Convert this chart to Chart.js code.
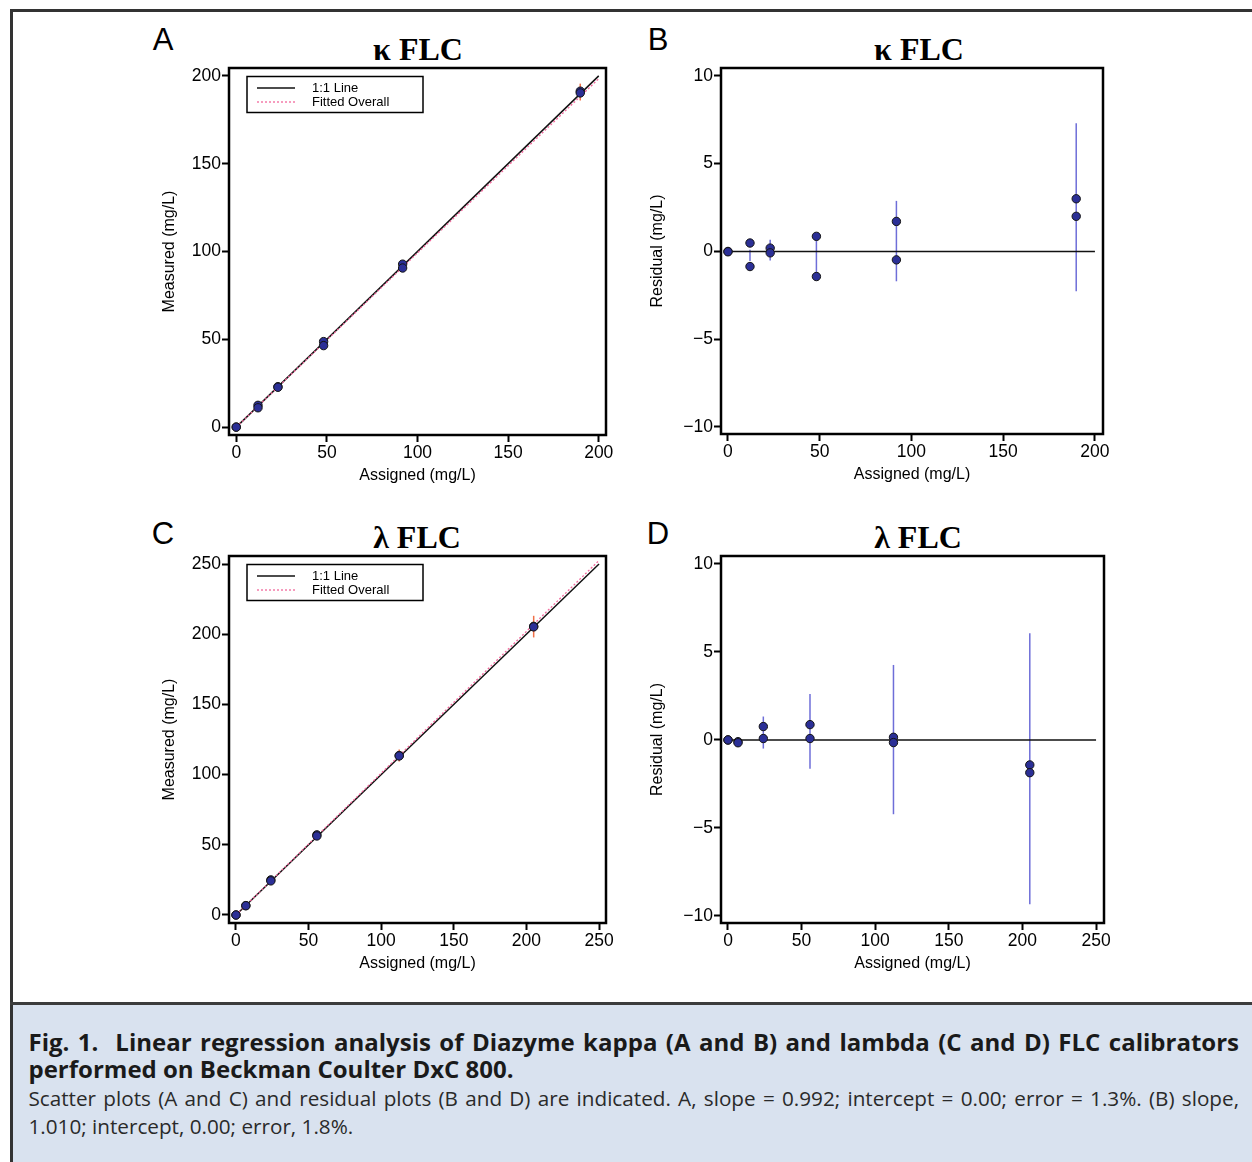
<!DOCTYPE html>
<html>
<head>
<meta charset="utf-8">
<script src="https://cdn.jsdelivr.net/npm/chart.js@4.4.0/dist/chart.umd.min.js"></script>
<style>
html,body{margin:0;padding:0;background:#fff;}
body{width:1252px;height:1162px;position:relative;overflow:hidden;font-family:'Liberation Sans',Arial,sans-serif;}
#frame{position:absolute;left:10px;top:9px;width:1260px;height:1200px;border-top:3px solid #333;border-left:3px solid #333;}
#sep{position:absolute;left:10px;top:1002px;width:1242px;height:3px;background:#3c3c3c;}
#cap{position:absolute;left:13px;top:1005px;width:1239px;height:157px;background:#d9e2ef;box-sizing:border-box;padding:23.2px 13px 0 15.5px;}
canvas{position:absolute;}
.lbl{position:absolute;font-family:'Liberation Sans',Arial,sans-serif;font-size:31px;line-height:1;transform:translate(-50%,-50%);color:#000;}
.ttl{position:absolute;font-family:'Liberation Serif','Times New Roman',serif;font-weight:bold;font-size:32px;line-height:1;transform:translate(-50%,-50%);white-space:nowrap;color:#000;}
.cb{font-family:'Open Sans',sans-serif;font-weight:700;font-size:24px;line-height:27px;color:#1a1a1a;}
.cr{font-family:'Open Sans',sans-serif;font-weight:400;font-size:20.7px;line-height:28px;color:#2a2a2a;}
.j{text-align:justify;text-align-last:justify;}
.first{margin-top:1.8px;}
</style>
</head>
<body>
<div id="frame"></div>

<div class="lbl" style="left:163px;top:39px;">A</div>
<div class="lbl" style="left:658px;top:39px;">B</div>
<div class="lbl" style="left:163px;top:533px;">C</div>
<div class="lbl" style="left:658px;top:533px;">D</div>

<div class="ttl" style="left:418px;top:49px;">κ FLC</div>
<div class="ttl" style="left:919px;top:49px;">κ FLC</div>
<div class="ttl" style="left:417px;top:537px;">λ FLC</div>
<div class="ttl" style="left:918px;top:537px;">λ FLC</div>

<canvas id="cA" width="471" height="433" style="left:155px;top:54px;"></canvas>
<canvas id="cB" width="480" height="432" style="left:643px;top:54px;"></canvas>
<canvas id="cC" width="471" height="433" style="left:155px;top:542px;"></canvas>
<canvas id="cD" width="481" height="433" style="left:643px;top:542px;"></canvas>

<div id="sep"></div>
<div id="cap">
  <div class="cb j">Fig. 1.&nbsp; Linear regression analysis of Diazyme kappa (A and B) and lambda (C and D) FLC calibrators</div>
  <div class="cb">performed on Beckman Coulter DxC 800.</div>
  <div class="cr j first">Scatter plots (A and C) and residual plots (B and D) are indicated. A, slope = 0.992; intercept = 0.00; error = 1.3%. (B) slope,</div>
  <div class="cr">1.010; intercept, 0.00; error, 1.8%.</div>
</div>

<script>
// ---------- tick labels ----------
const kappaTicks = [0, 50, 100, 150, 200];
const lambdaTicks = [0, 50, 100, 150, 200, 250];
const residualTicks = [-10, -5, 0, 5, 10];

// ---------- text ----------
const xTitle = 'Assigned (mg/L)';
const yTitleScatter = 'Measured (mg/L)';
const yTitleResidual = 'Residual (mg/L)';
const legendLabels = ['1:1 Line', 'Fitted Overall'];

// ---------- kappa (A, B) ----------
const kappaAssigned = [0, 0, 12, 12, 23, 23, 48.2, 48.2, 91.8, 91.8, 189.8, 189.8];
const kappaMeasured = [0, 0, 12.4, 11.0, 23.0, 22.7, 48.7, 46.4, 92.8, 90.6, 191.3, 190.3];
const kappaResidual = [0, -0.02, 0.48, -0.86, 0.19, -0.08, 0.86, -1.43, 1.71, -0.48, 3.0, 2.0];
const kappaBarX = [12, 23, 48.2, 91.8, 189.8];
const kappaMeasLo = [11.35, 22.3, 46.4, 89.4, 186.0];
const kappaMeasHi = [12.0, 23.5, 48.7, 94.0, 195.6];
const kappaResLo = [-0.55, -0.51, -1.43, -1.7, -2.27];
const kappaResHi = [0.1, 0.67, 0.86, 2.88, 7.3];
const kappaLineX = [0, 200];
const kappaIdentityY = [0, 200];
const kappaFittedY = [0, 198.4];
const kappaZeroY = [0, 0];

// ---------- lambda (C, D) ----------
const lambdaAssigned = [0, 0, 6.8, 6.8, 24, 24, 55.7, 55.7, 112.4, 112.4, 205, 205];
const lambdaMeasured = [0, 0, 6.7, 6.6, 25.0, 24.3, 57.1, 56.3, 113.6, 113.3, 205.6, 205.2];
const lambdaResidual = [0, 0, -0.1, -0.16, 0.76, 0.08, 0.87, 0.08, 0.15, -0.15, -1.42, -1.86];
const lambdaBarX = [24, 55.7, 112.4, 205];
const lambdaMeasLo = [23.7, 54.6, 109.3, 197.7];
const lambdaMeasHi = [25.6, 58.9, 117.8, 213.1];
const lambdaResLo = [-0.49, -1.63, -4.22, -9.34];
const lambdaResHi = [1.33, 2.61, 4.26, 6.06];
const lambdaLineX = [0, 250];
const lambdaIdentityY = [0, 250];
const lambdaFittedY = [0, 252.5];
const lambdaZeroY = [0, 0];

// ---------- styling ----------
const FONT = "'Liberation Sans', Arial, sans-serif";
const POINT_FILL = '#2b2f96';
const POINT_EDGE = '#141414';
const SCATTER_BAR = '#f07048';
const RESID_BAR = '#6e6ed8';
const PINK = '#f2689c';

const toXY = (xs, ys) => xs.map((x, i) => ({x: x, y: ys[i]}));
const fmt = v => (v < 0 ? '\u2212' + (-v) : String(v));

const framePlugin = {
  id: 'frame',
  beforeDatasetsDraw(chart, args, opts) {
    const e = opts.err;
    if (!e) return;
    const {ctx, scales} = chart;
    const a = chart.chartArea;
    ctx.save();
    ctx.beginPath();
    ctx.rect(a.left, a.top, a.right - a.left, a.bottom - a.top);
    ctx.clip();
    ctx.strokeStyle = e.color;
    ctx.lineWidth = e.width;
    e.x.forEach((xv, i) => {
      const px = scales.x.getPixelForValue(xv);
      ctx.beginPath();
      ctx.moveTo(px, scales.y.getPixelForValue(e.lo[i]));
      ctx.lineTo(px, scales.y.getPixelForValue(e.hi[i]));
      ctx.stroke();
    });
    ctx.restore();
  },
  afterDraw(chart, args, opts) {
    const {ctx} = chart;
    const a = chart.chartArea;
    ctx.save();
    ctx.strokeStyle = '#000';
    ctx.lineWidth = 2.5;
    ctx.strokeRect(a.left, a.top, a.right - a.left, a.bottom - a.top);
    const L = opts.legend;
    if (L) {
      const lx = a.left + L.dx, ly = a.top + L.dy;
      ctx.fillStyle = '#fff';
      ctx.fillRect(lx, ly, L.w, L.h);
      ctx.strokeStyle = '#000';
      ctx.lineWidth = 1.5;
      ctx.strokeRect(lx, ly, L.w, L.h);
      const items = chart.data.datasets.filter(d => d.inLegend);
      items.forEach((d, i) => {
        const yy = ly + L.rows[i];
        ctx.strokeStyle = d.borderColor;
        ctx.lineWidth = d.borderWidth;
        ctx.setLineDash(d.borderDash || []);
        ctx.beginPath();
        ctx.moveTo(lx + 10, yy);
        ctx.lineTo(lx + 48, yy);
        ctx.stroke();
        ctx.setLineDash([]);
        ctx.fillStyle = '#000';
        ctx.font = "13px " + FONT;
        ctx.textBaseline = 'middle';
        ctx.textAlign = 'left';
        ctx.fillText(d.label, lx + 65, yy);
      });
    }
    ctx.restore();
  }
};

function axis(range, ticks, title, isX, geom) {
  const o = {
    type: 'linear',
    min: range[0],
    max: range[1],
    afterBuildTicks: s => { s.ticks = ticks.map(v => ({value: v})); },
    grid: {display: true, drawOnChartArea: false, drawTicks: true, tickLength: 7, tickWidth: 2, tickColor: '#000'},
    border: {display: false},
    ticks: {color: '#000', font: {family: FONT, size: 17.5}, padding: 1, maxRotation: 0, autoSkip: false, callback: v => fmt(v)},
    title: {display: true, text: title, color: '#000', font: {family: FONT, size: 16}, padding: isX ? {top: 0, bottom: 2} : {top: 5, bottom: 0}}
  };
  if (isX) o.afterFit = s => { s.height = geom.bh; };
  else o.afterFit = s => { s.width = geom.lw; };
  return o;
}

function makeChart(id, geom, datasets, xr, yr, xt, yt, yTitle, pluginOpts) {
  return new Chart(document.getElementById(id), {
    type: 'scatter',
    data: {datasets: datasets},
    options: {
      responsive: false,
      animation: false,
      devicePixelRatio: 1,
      events: [],
      layout: {padding: {top: geom.tp, right: geom.rp, left: 0, bottom: 0}},
      scales: {
        x: axis(xr, xt, xTitle, true, geom),
        y: axis(yr, yt, yTitle, false, geom)
      },
      plugins: {legend: {display: false}, tooltip: {enabled: false}, frame: pluginOpts}
    },
    plugins: [framePlugin]
  });
}

function pointsSet(xs, ys) {
  return {label: 'points', data: toXY(xs, ys), showLine: false, pointRadius: 4.2,
    pointBackgroundColor: POINT_FILL, pointBorderColor: POINT_EDGE, pointBorderWidth: 1, order: 0};
}
function lineSet(label, xs, ys, color, width, dash, order, inLegend) {
  return {label: label, data: toXY(xs, ys), showLine: true, pointRadius: 0, borderColor: color,
    borderWidth: width, borderDash: dash, fill: false, order: order, inLegend: inLegend};
}

const G_left = {lw: 74, bh: 52, tp: 14, rp: 20};
const G_right = {lw: 78, bh: 52, tp: 14, rp: 20};
const legendBox = {dx: 18, dy: 8.5, w: 176, h: 36, rows: [11.5, 25.5]};

// Panel A
makeChart('cA', G_left, [
  pointsSet(kappaAssigned, kappaMeasured),
  lineSet(legendLabels[0], kappaLineX, kappaIdentityY, '#111', 1.5, [], 2, true),
  lineSet(legendLabels[1], kappaLineX, kappaFittedY, PINK, 1.3, [2, 2], 1, true)
], [-4, 204], [-4.5, 204.5], kappaTicks, kappaTicks, yTitleScatter,
  {err: {x: kappaBarX, lo: kappaMeasLo, hi: kappaMeasHi, color: SCATTER_BAR, width: 1.5}, legend: legendBox});

// Panel B
makeChart('cB', G_right, [
  pointsSet(kappaAssigned, kappaResidual),
  lineSet('zero', kappaLineX, kappaZeroY, '#111', 1.5, [], 2, false)
], [-3.8, 204.4], [-10.4, 10.45], kappaTicks, residualTicks, yTitleResidual,
  {err: {x: kappaBarX, lo: kappaResLo, hi: kappaResHi, color: RESID_BAR, width: 1.5}});

// Panel C
makeChart('cC', G_left, [
  pointsSet(lambdaAssigned, lambdaMeasured),
  lineSet(legendLabels[0], lambdaLineX, lambdaIdentityY, '#111', 1.5, [], 2, true),
  lineSet(legendLabels[1], lambdaLineX, lambdaFittedY, PINK, 1.3, [2, 2], 1, true)
], [-4.8, 254.8], [-5.7, 255.7], lambdaTicks, lambdaTicks, yTitleScatter,
  {err: {x: lambdaBarX, lo: lambdaMeasLo, hi: lambdaMeasHi, color: SCATTER_BAR, width: 1.5}, legend: legendBox});

// Panel D
makeChart('cD', G_right, [
  pointsSet(lambdaAssigned, lambdaResidual),
  lineSet('zero', lambdaLineX, lambdaZeroY, '#111', 1.5, [], 2, false)
], [-4.75, 255.4], [-10.4, 10.45], lambdaTicks, residualTicks, yTitleResidual,
  {err: {x: lambdaBarX, lo: lambdaResLo, hi: lambdaResHi, color: RESID_BAR, width: 1.5}});
</script>
</body>
</html>
